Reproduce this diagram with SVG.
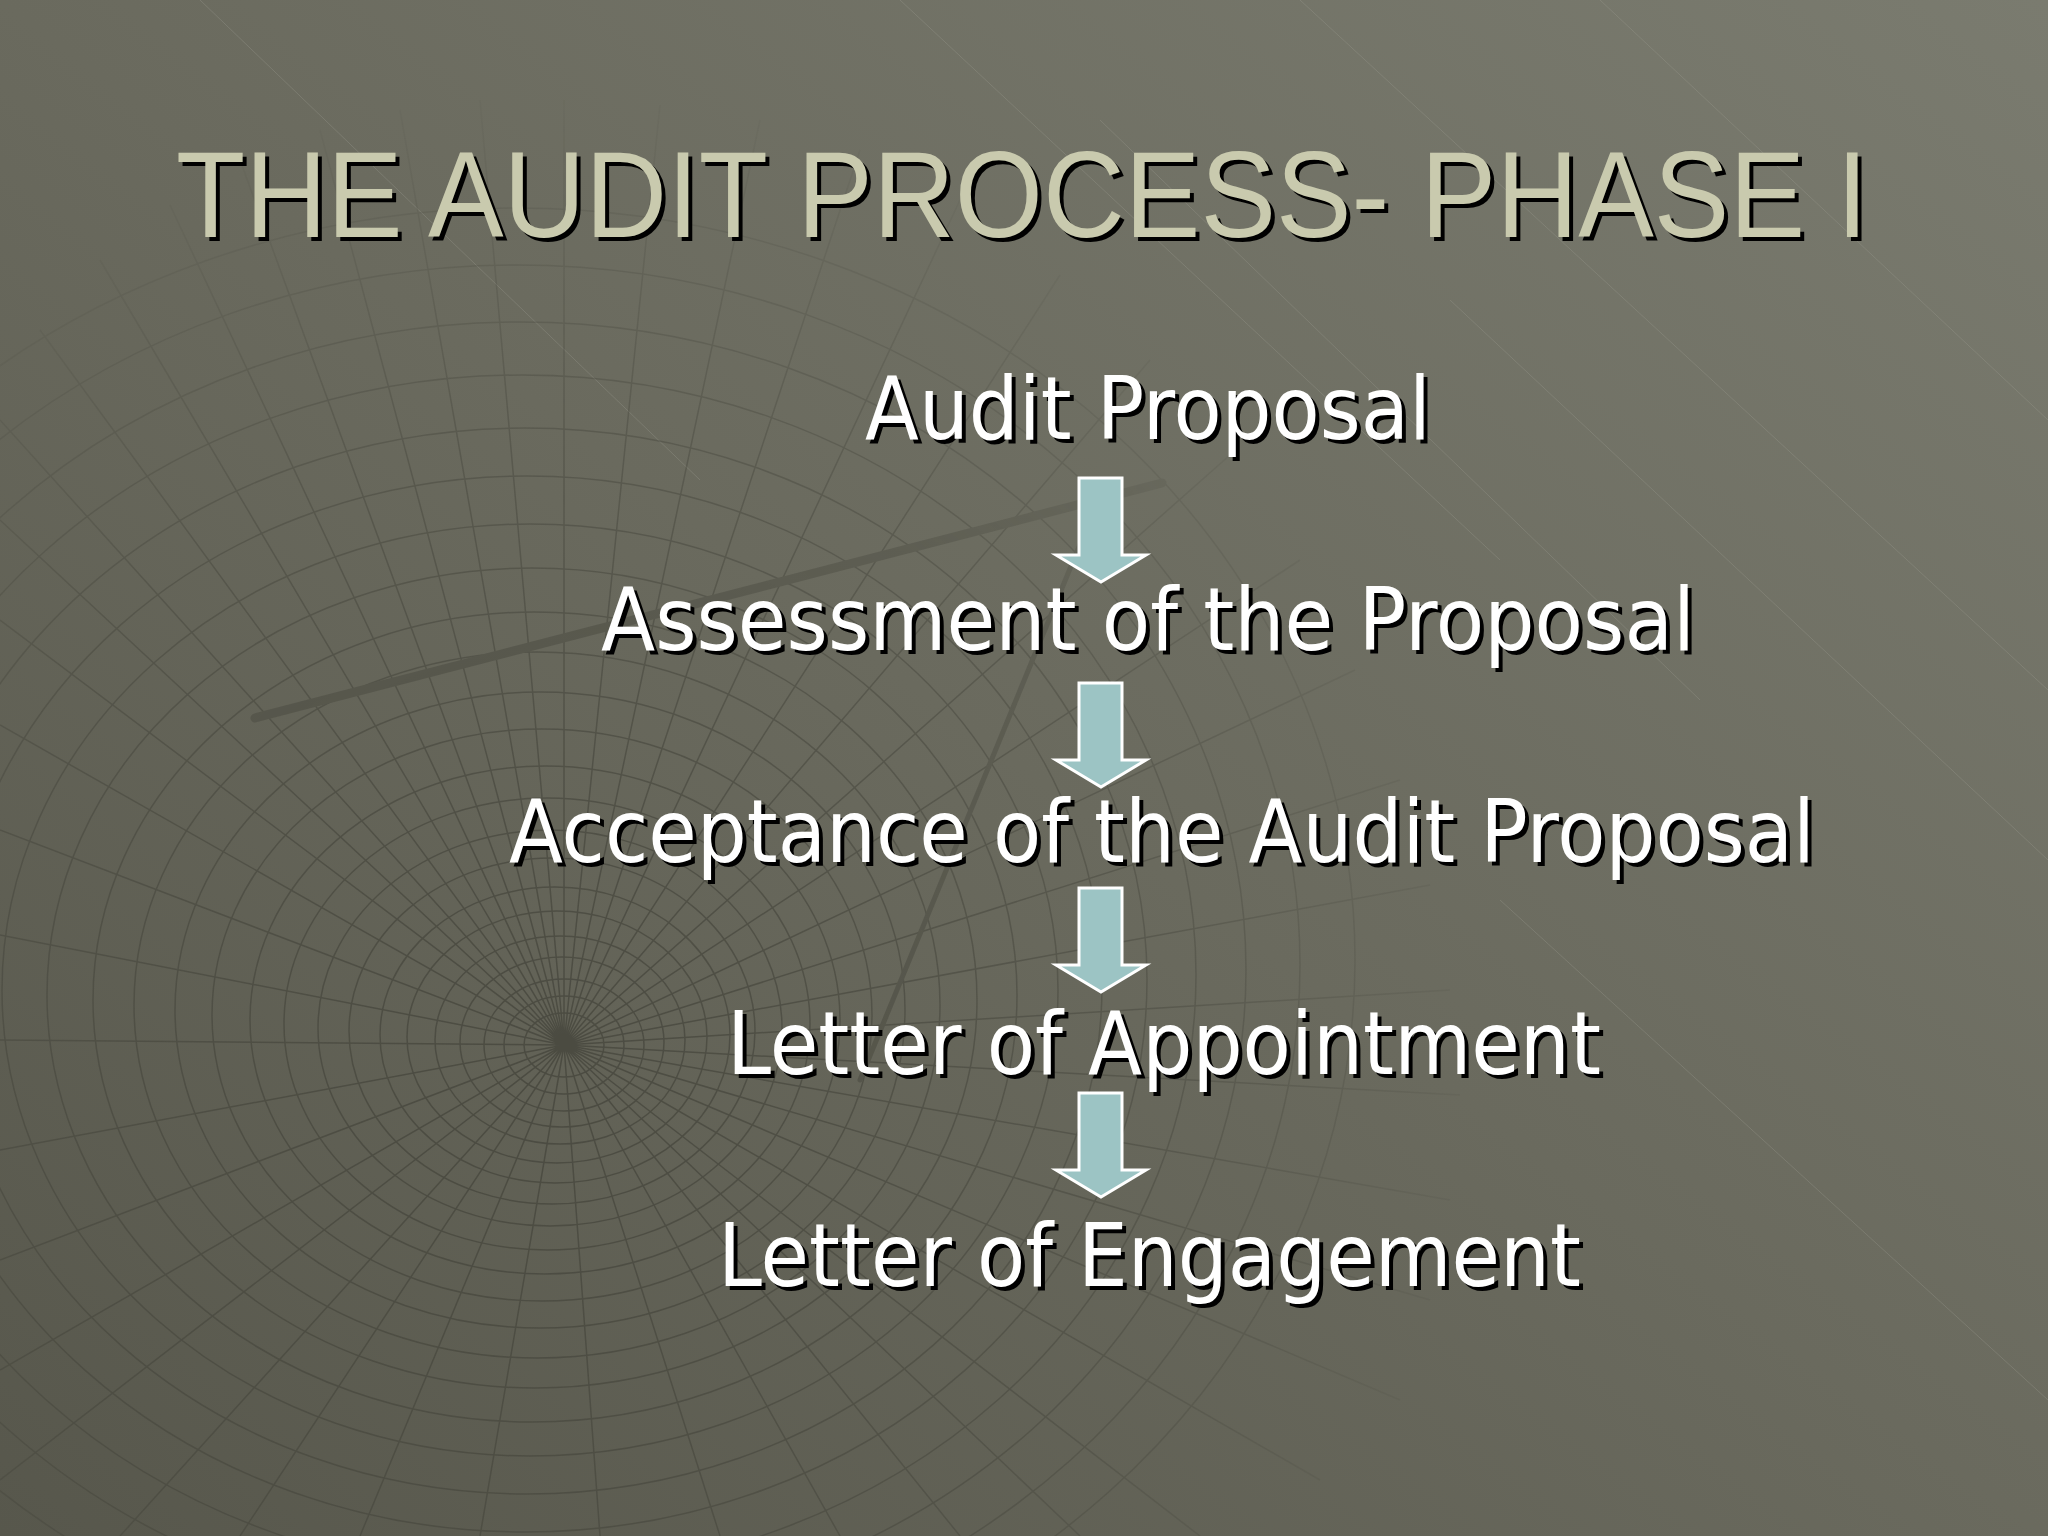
<svg xmlns="http://www.w3.org/2000/svg" width="2048" height="1536" viewBox="0 0 2048 1536">
<style>
.title{font-family:"Liberation Sans",Arial,sans-serif;font-size:122px;}
.body{font-family:"DejaVu Sans",Verdana,sans-serif;font-size:87px;}
.shadow{fill:#000000;}
.tfill{fill:#c9caae;}
.bfill{fill:#ffffff;}
.arrow{fill:#9cc4c4;stroke:#ffffff;stroke-width:3;stroke-linejoin:miter;}
.web{fill:none;stroke:#35352d;stroke-width:1.5;}
.streak{fill:none;stroke:#9a9b8f;stroke-width:1;stroke-opacity:0.35;}
</style>
<defs>
<linearGradient id="bg" x1="1" y1="0" x2="0" y2="1">
<stop offset="0" stop-color="#7a7b6f"/>
<stop offset="0.5" stop-color="#6a6a5e"/>
<stop offset="1" stop-color="#57574c"/>
</linearGradient>
<radialGradient id="fade" cx="564" cy="1045" r="1000" gradientUnits="userSpaceOnUse">
<stop offset="0" stop-color="#fff" stop-opacity="0.5"/>
<stop offset="0.6" stop-color="#fff" stop-opacity="0.3"/>
<stop offset="1" stop-color="#fff" stop-opacity="0"/>
</radialGradient>
<mask id="webmask">
<rect x="0" y="0" width="2048" height="1536" fill="url(#fade)"/>
</mask>
<path id="arr" d="M0,0 H43 V77 H67 L22,104 L-23,77 H0 Z"/>
</defs>
<rect x="0" y="0" width="2048" height="1536" fill="url(#bg)"/>
<g id="background-streaks" class="streak">
<path d="M900,0 L1500,560 M1300,0 L2048,690 M1600,0 L2048,420 M1100,120 L1700,700 M1450,300 L2048,860 M1500,900 L2048,1400 M200,0 L700,480"/>
</g>
<g id="background-web" mask="url(#webmask)">
<g class="web">
<ellipse cx="564" cy="1045" rx="40" ry="32"/>
<ellipse cx="564" cy="1045" rx="60" ry="49"/>
<ellipse cx="564" cy="1045" rx="80" ry="66"/>
<ellipse cx="562" cy="1042" rx="102" ry="85"/>
<ellipse cx="560" cy="1040" rx="125" ry="104"/>
<ellipse cx="557" cy="1037" rx="150" ry="126"/>
<ellipse cx="555" cy="1035" rx="175" ry="148"/>
<ellipse cx="552" cy="1031" rx="203" ry="173"/>
<ellipse cx="550" cy="1028" rx="232" ry="198"/>
<ellipse cx="547" cy="1024" rx="263" ry="226"/>
<ellipse cx="545" cy="1020" rx="295" ry="254"/>
<ellipse cx="542" cy="1015" rx="330" ry="286"/>
<ellipse cx="540" cy="1010" rx="365" ry="318"/>
<ellipse cx="537" cy="1005" rx="403" ry="353"/>
<ellipse cx="535" cy="1000" rx="442" ry="388"/>
<ellipse cx="532" cy="995" rx="485" ry="427"/>
<ellipse cx="530" cy="990" rx="528" ry="466"/>
<ellipse cx="527" cy="985" rx="575" ry="509"/>
<ellipse cx="525" cy="980" rx="622" ry="552"/>
<ellipse cx="522" cy="975" rx="674" ry="600"/>
<ellipse cx="520" cy="970" rx="726" ry="648"/>
<ellipse cx="517" cy="965" rx="783" ry="700"/>
<ellipse cx="515" cy="960" rx="840" ry="752"/>
</g>
<g class="web" stroke-width="1.1">
<path d="M564,1045 L564,100 M564,1045 L480,100 M564,1045 L400,110 M564,1045 L320,130 M564,1045 L240,160 M564,1045 L170,205 M564,1045 L100,260 M564,1045 L40,330 M564,1045 L0,420 M564,1045 L0,520 M564,1045 L0,620 M564,1045 L0,725 M564,1045 L0,830 M564,1045 L0,935 M564,1045 L0,1040 M564,1045 L0,1150 M564,1045 L0,1260 M564,1045 L0,1370 M564,1045 L0,1480 M564,1045 L120,1536 M564,1045 L240,1536 M564,1045 L360,1536 M564,1045 L480,1536 M564,1045 L600,1536 M564,1045 L720,1536 M564,1045 L840,1536 M564,1045 L960,1536 M564,1045 L1080,1536 M564,1045 L1200,1536 M564,1045 L1320,1480 M564,1045 L1400,1400 M564,1045 L1430,1300 M564,1045 L1450,1200 M564,1045 L1460,1095 M564,1045 L1450,990 M564,1045 L1430,885 M564,1045 L1400,780 M564,1045 L1355,670 M564,1045 L1300,560 M564,1045 L1230,455 M564,1045 L1150,360 M564,1045 L1060,275 M564,1045 L960,200 M564,1045 L860,150 M564,1045 L760,120 M564,1045 L660,105"/>
</g>
<g stroke="#3f3f36" stroke-linecap="round" fill="none">
<path d="M255,718 L1162,483" stroke-width="9"/>
<path d="M1090,520 L860,1080" stroke-width="5"/>
</g>
</g>
<g id="title">
<text class="title shadow" x="180" y="241" textLength="1692" lengthAdjust="spacingAndGlyphs">THE AUDIT PROCESS- PHASE I</text>
<text class="title tfill" x="176" y="237" textLength="1692" lengthAdjust="spacingAndGlyphs">THE AUDIT PROCESS- PHASE I</text>
</g>
<g id="node-audit-proposal">
<text class="body shadow" x="869" y="443" textLength="566" lengthAdjust="spacingAndGlyphs">Audit Proposal</text>
<text class="body bfill" x="865" y="439" textLength="566" lengthAdjust="spacingAndGlyphs">Audit Proposal</text>
</g>
<g id="node-assessment">
<text class="body shadow" x="605" y="654" textLength="1094" lengthAdjust="spacingAndGlyphs">Assessment of the Proposal</text>
<text class="body bfill" x="601" y="650" textLength="1094" lengthAdjust="spacingAndGlyphs">Assessment of the Proposal</text>
</g>
<g id="node-acceptance">
<text class="body shadow" x="513" y="866" textLength="1306" lengthAdjust="spacingAndGlyphs">Acceptance of the Audit Proposal</text>
<text class="body bfill" x="509" y="862" textLength="1306" lengthAdjust="spacingAndGlyphs">Acceptance of the Audit Proposal</text>
</g>
<g id="node-appointment">
<text class="body shadow" x="731" y="1078" textLength="874" lengthAdjust="spacingAndGlyphs">Letter of Appointment</text>
<text class="body bfill" x="727" y="1074" textLength="874" lengthAdjust="spacingAndGlyphs">Letter of Appointment</text>
</g>
<g id="node-engagement">
<text class="body shadow" x="722" y="1290" textLength="863" lengthAdjust="spacingAndGlyphs">Letter of Engagement</text>
<text class="body bfill" x="718" y="1286" textLength="863" lengthAdjust="spacingAndGlyphs">Letter of Engagement</text>
</g>
<g id="connectors">
<use href="#arr" class="arrow" x="1079" y="478"/>
<use href="#arr" class="arrow" x="1079" y="683"/>
<use href="#arr" class="arrow" x="1079" y="888"/>
<use href="#arr" class="arrow" x="1079" y="1093"/>
</g>
</svg>
